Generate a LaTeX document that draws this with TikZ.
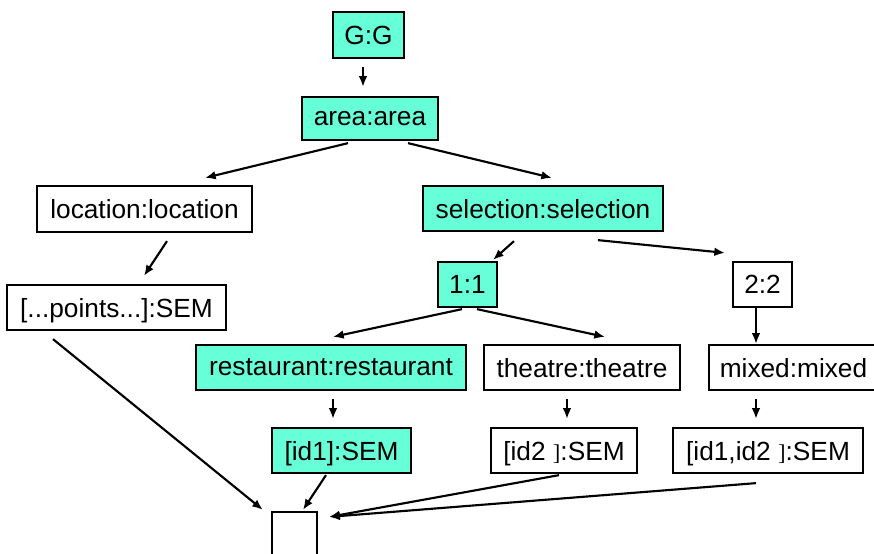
\documentclass[tikz,border=0pt]{standalone}
\usepackage{fontspec}
\setmainfont{Liberation Sans}
\newfontfamily\brkfont{Liberation Serif}
\usetikzlibrary{arrows.meta,calc}
\definecolor{aqua}{RGB}{102,255,216}
\tikzset{
  box/.style={draw=black, line width=1.7pt, inner sep=0pt, minimum height=33.75pt, font=\fontsize{19.7pt}{22pt}\selectfont, text depth=0pt},
  hl/.style={box, fill=aqua},
  arr/.style={line width=1.6pt, -{Latex[length=8pt,width=6.5pt]}}
}
\begin{document}
\begin{tikzpicture}[x=0.75pt,y=-0.75pt]
\useasboundingbox (0,0) rectangle (874,553);
\node[hl, minimum width=53.25pt, minimum height=34.5pt] (G) at (368.5,35) {G:G};
\node[hl, minimum width=102pt, minimum height=32.25pt] (area) at (370,118.5) {area:area};
\node[box, minimum width=161.25pt, minimum height=34.5pt] (location) at (144.5,209) {location:location};
\node[hl, minimum width=180pt] (selection) at (543,208.5) {selection:selection};
\node[box, minimum width=164.25pt] (points) at (116.5,307.5) {[...points...]:SEM};
\node[hl, minimum width=44.25pt] (one) at (467.5,284.5) {1:1};
\node[box, minimum width=44.25pt] (two) at (762.5,284.5) {2:2};
\node[hl, minimum width=202.5pt] (restaurant) at (331,367.5) {restaurant:restaurant};
\node[box, minimum width=147pt] (theatre) at (582,367.5) {theatre:theatre};
\node[box, minimum width=126.75pt] (mixed) at (793.5,367.5) {mixed:mixed};
\node[hl, minimum width=104.25pt] (id1) at (341.5,450.5) {[id1]:SEM};
\node[box, minimum width=109.5pt] (id2) at (564,450.5) {[id2 {\brkfont\fontsize{17pt}{20pt}\selectfont]}:SEM};
\node[box, minimum width=142.5pt] (id12) at (768,450.5) {[id1,id2 {\brkfont\fontsize{17pt}{20pt}\selectfont]}:SEM};
\node[box, minimum width=33.75pt, minimum height=66pt] (bottom) at (294.5,556) {};

\draw[arr] ($(G.south)+(-5.5,8)$) -- ($(area.north)+(-7,-9)$);
\draw[arr] ($(area.south)+(-22,2)$) -- ($(location.north)+(60.5,-7)$);
\draw[arr] ($(area.south)+(38,2)$) -- ($(selection.north)+(9,-7)$);
\draw[arr] ($(location.south)+(22.5,8)$) -- ($(points.north)+(27.5,-8)$);
\draw[arr] ($(selection.south)+(-29,9)$) -- ($(one.north)+(25.5,-1)$);
\draw[arr] ($(selection.south)+(55,8)$) -- ($(two.north)+(-37.5,-8)$);
\draw[arr] ($(one.south)+(-5.5,1)$) -- ($(restaurant.north)+(2,-7)$);
\draw[arr] ($(one.south)+(9.5,1)$) -- ($(theatre.north)+(23,-7)$);
\draw[arr] ($(two.south)+(-6.5,0)$) -- ($(mixed.north)+(-37.5,0)$);
\draw[arr] ($(restaurant.south)+(2,8)$) -- ($(id1.north)+(-8.5,-8)$);
\draw[arr] ($(theatre.south)+(-15,8)$) -- ($(id2.north)+(3,-8)$);
\draw[arr] ($(mixed.south)+(-37.5,8)$) -- ($(id12.north)+(-12,-8)$);
\draw[arr] ($(points.south)+(-63.5,8)$) -- ($(bottom.north west)+(-8,-1)$);
\draw[arr] ($(id1.south)+(-15.5,1)$) -- ($(bottom.north)+(8.5,-1)$);
\draw[arr] ($(id2.south)+(-5,1)$) -- ($(bottom.north east)+(11,6)$);
\draw[arr] ($(id12.south)+(-12,9)$) -- ($(bottom.north east)+(11,6)$);
\end{tikzpicture}
\end{document}
